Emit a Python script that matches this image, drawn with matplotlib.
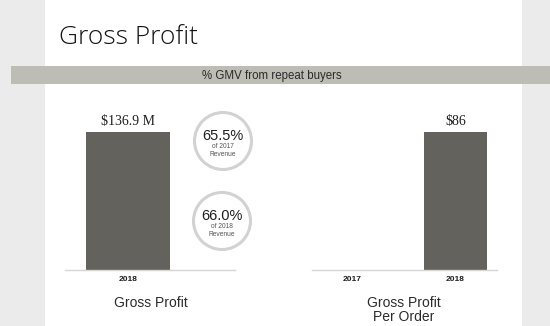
import matplotlib.pyplot as plt
from matplotlib.patches import Rectangle, Circle

# data
gp_years = ['2018']
gp_values = [136.9]
gp_labels = ['$136.9 M']

po_years = ['2017', '2018']
po_values = [0, 86]
po_labels = ['', '$86']

repeat_pct = ['65.5%', '66.0%']
repeat_sub = ['of 2017\nRevenue', 'of 2018\nRevenue']

W, H = 550, 326
fig = plt.figure(figsize=(5.5, 3.26), dpi=100)
fig.patch.set_facecolor('white')

# decoration layer in pixel coordinates
deco = fig.add_axes([0, 0, 1, 1])
deco.set_xlim(0, W)
deco.set_ylim(H, 0)
deco.axis('off')
deco.add_patch(Rectangle((0, 0), 45, H, color='#ebebeb', lw=0))
deco.add_patch(Rectangle((522, 0), 28, H, color='#ebebeb', lw=0))
deco.add_patch(Rectangle((11, 66), 539, 18, color='#bdbdb5', lw=0))
deco.text(59, 44.5, 'Gross Profit', fontsize=19, family='Open Sans', fontweight='light',
          color='#141414', va='baseline', ha='left')
deco.text(272, 75.5, '% GMV from repeat buyers', fontsize=8.3, family='Liberation Sans',
          color='#2a2a2a', va='center', ha='center')

# circles with repeat buyer share
for (cx, cy), pct, sub in zip([(223, 141), (222, 221)], repeat_pct, repeat_sub):
    deco.add_patch(Circle((cx, cy), 28.5, facecolor='white', edgecolor='#d2d2d2', lw=2.2))
    deco.text(cx, cy - 5, pct, fontsize=10.5, family='Liberation Sans', color='#1e1e1e',
              ha='center', va='center')
    deco.text(cx, cy + 10, sub, fontsize=4.8, family='Liberation Sans', color='#555555',
              ha='center', va='center', linespacing=1.2)

deco.text(151, 303, 'Gross Profit', fontsize=10, family='Liberation Sans',
          color='#2a2a2a', ha='center', va='center')
deco.text(404, 310, 'Gross Profit\nPer Order', fontsize=10, family='Liberation Sans',
          color='#2a2a2a', ha='center', va='center', linespacing=1.05)

bar_color = '#64625d'
bottom = (H - 270) / H
height = (270 - 132) / H


def style(ax):
    for s in ['top', 'left', 'right']:
        ax.spines[s].set_visible(False)
    ax.spines['bottom'].set_color('#d6d6d6')
    ax.spines['bottom'].set_linewidth(1)
    ax.set_yticks([])
    ax.tick_params(axis='x', length=0, pad=4, labelsize=6, colors='#1e1e1e')
    for t in ax.get_xticklabels():
        t.set_fontweight('bold')
        t.set_family('Liberation Sans')
    ax.patch.set_alpha(0)


# left chart: gross profit
ax1 = fig.add_axes([65 / W, bottom, 170 / W, height])
x1 = range(len(gp_years))
ax1.bar(x1, gp_values, width=1.0, color=bar_color)
ax1.set_xlim(-0.75, 1.274)
ax1.set_ylim(0, max(gp_values))
ax1.set_xticks(list(x1))
ax1.set_xticklabels(gp_years)
for i, (v, lab) in enumerate(zip(gp_values, gp_labels)):
    ax1.annotate(lab, (i, v), xytext=(0, 3), textcoords='offset points', ha='center',
                 va='bottom', fontsize=10, family='Liberation Serif', color='#1e1e1e',
                 annotation_clip=False)
style(ax1)

# right chart: gross profit per order
ax2 = fig.add_axes([312 / W, bottom, 185 / W, height])
x2 = range(len(po_years))
ax2.bar(x2, po_values, width=0.61, color=bar_color)
ax2.set_xlim(-0.386, 1.40)
ax2.set_ylim(0, max(po_values))
ax2.set_xticks(list(x2))
ax2.set_xticklabels(po_years)
for i, (v, lab) in enumerate(zip(po_values, po_labels)):
    if lab:
        ax2.annotate(lab, (i, v), xytext=(0, 3), textcoords='offset points', ha='center',
                     va='bottom', fontsize=10, family='Liberation Serif', color='#1e1e1e',
                     annotation_clip=False)
style(ax2)

fig.savefig('out.png', dpi=100)
